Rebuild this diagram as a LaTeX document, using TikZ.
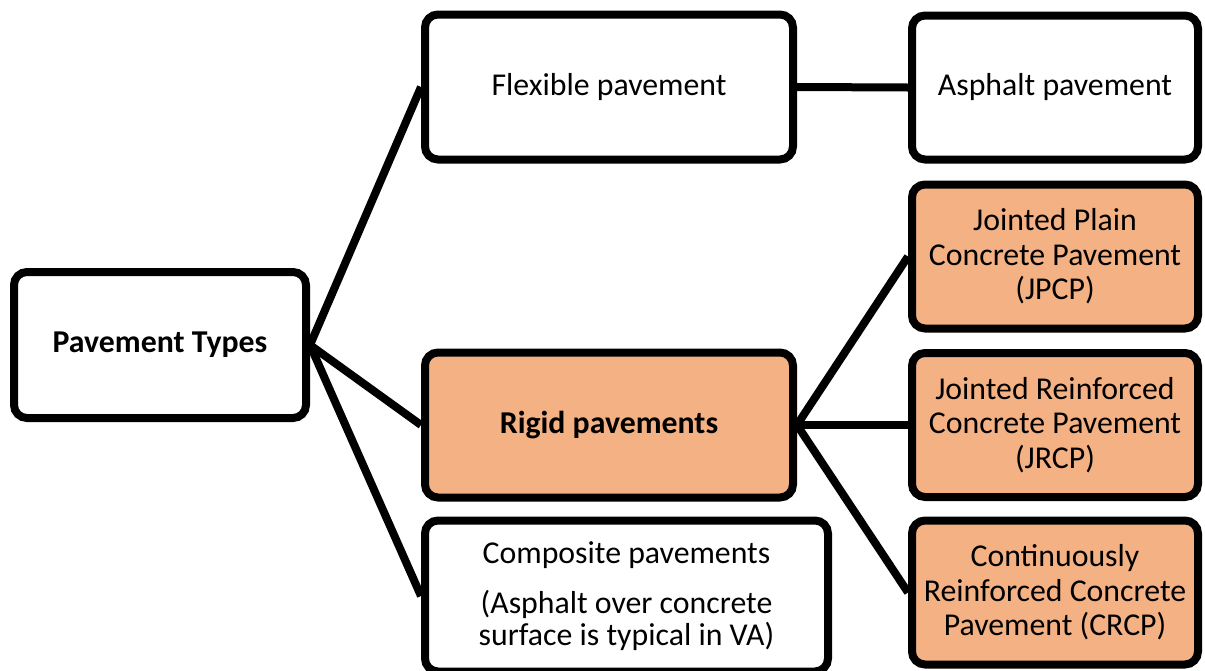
\documentclass[tikz,border=0pt]{standalone}
\usepackage{fontspec}
\setmainfont{Carlito}
\usetikzlibrary{backgrounds}
\definecolor{rigidfill}{HTML}{F4B183}
\begin{document}
\begin{tikzpicture}[x=1pt,y=-1pt,
  box/.style={draw=black, line width=8pt, rounded corners=13pt, fill=white,
    align=center, inner sep=0pt,
    font=\fontsize{31.8}{34.5}\selectfont},
  rigid/.style={box, fill=rigidfill},
  wide/.style={minimum width=368pt, minimum height=145pt},
  leaf/.style={minimum width=286pt, minimum height=144pt},
  link/.style={line width=8pt, draw=black}]
\useasboundingbox (0,0) rectangle (1205,670);

% root
\node[box, minimum width=292pt, minimum height=146pt] (types) at (160,345)
  {\bfseries Pavement Types};

% main categories
\node[box, wide] (flex) at (609,87) {Flexible pavement};
\node[rigid, wide] (rigidp) at (609,425) {\bfseries Rigid pavements};
\node[box, minimum width=403pt, minimum height=151pt] (comp) at (626.5,596)
  {Composite pavements\\[15.5pt](Asphalt over concrete\\[-2.5pt]surface is typical in VA)};

% sub-types
\node[box, leaf] (asph) at (1055,87.5) {Asphalt pavement};
\node[rigid, leaf] (jpcp) at (1055,256.5) {Jointed Plain\\Concrete Pavement\\(JPCP)};
\node[rigid, leaf] (jrcp) at (1055,425) {Jointed Reinforced\\Concrete Pavement\\(JRCP)};
\node[rigid, leaf] (crcp) at (1055,592.5) {Continuously\\Reinforced Concrete\\Pavement (CRCP)};

% connectors
\begin{pgfonlayer}{background}
\draw[link] (types.east) -- (flex.west);
\draw[link] (types.east) -- (rigidp.west);
\draw[link] (types.east) -- (comp.west);
\draw[link] (flex.east) -- (asph.west);
\draw[link] (rigidp.east) -- (jpcp.west);
\draw[link] (rigidp.east) -- (jrcp.west);
\draw[link] (rigidp.east) -- (crcp.west);
\end{pgfonlayer}
\end{tikzpicture}
\end{document}
